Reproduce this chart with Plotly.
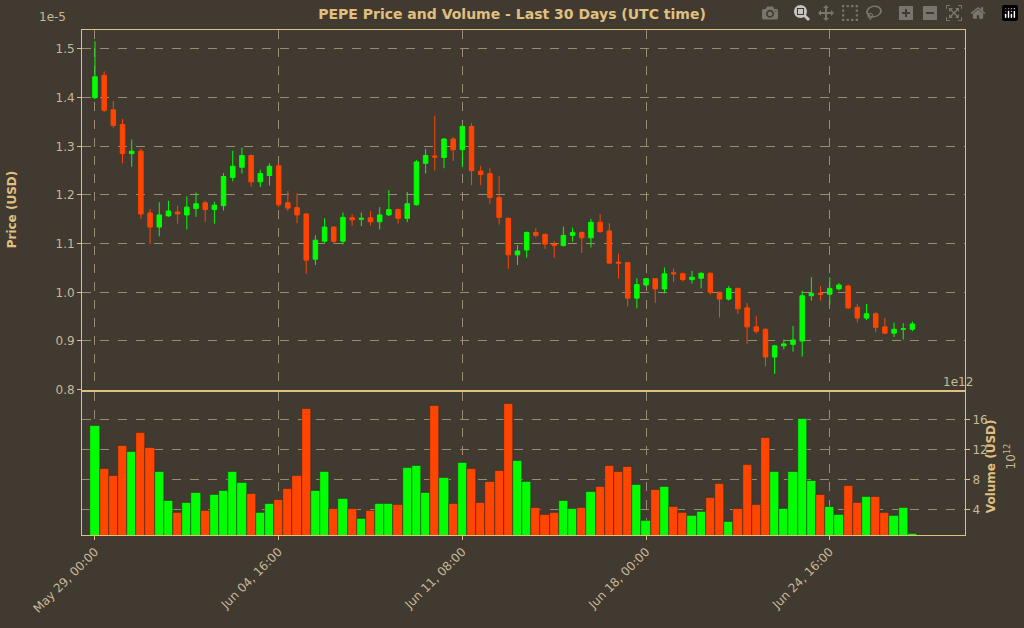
import pandas as pd
import plotly.graph_objects as go
from plotly.subplots import make_subplots

# prices in units of 1e-5 USD, 8-hour candles
opens  = [1.400,1.446,1.375,1.345,1.285,1.290,1.163,1.134,1.157,1.165,1.159,1.172,1.184,1.170,1.178,1.236,1.257,1.281,1.227,1.240,
          1.260,1.184,1.174,1.161,1.068,1.105,1.134,1.105,1.153,1.150,1.153,1.145,1.159,1.170,1.152,1.180,1.265,1.280,1.277,1.315,
          1.293,1.341,1.249,1.244,1.195,1.152,1.077,1.087,1.123,1.119,1.099,1.096,1.117,1.123,1.112,1.144,1.126,1.062,1.061,0.988,
          1.015,1.028,1.007,1.040,1.038,1.026,1.029,1.039,1.000,0.986,1.008,0.968,0.929,0.924,0.867,0.890,0.893,0.900,0.993,0.998,
          0.996,1.007,1.013,0.969,0.947,0.956,0.929,0.916,0.924,0.924]
highs  = [1.516,1.454,1.393,1.356,1.314,1.295,1.171,1.185,1.188,1.178,1.197,1.205,1.188,1.186,1.245,1.291,1.297,1.283,1.252,1.265,
          1.264,1.208,1.204,1.163,1.117,1.152,1.136,1.164,1.161,1.164,1.167,1.175,1.210,1.172,1.206,1.272,1.295,1.363,1.317,1.319,
          1.343,1.348,1.260,1.255,1.239,1.154,1.097,1.125,1.132,1.121,1.105,1.135,1.133,1.125,1.151,1.161,1.142,1.079,1.062,1.029,
          1.029,1.029,1.051,1.049,1.041,1.044,1.041,1.041,1.001,1.013,1.010,0.978,0.951,0.926,0.892,0.903,0.931,1.003,1.031,1.013,
          1.031,1.019,1.016,0.976,0.976,0.959,0.947,0.938,0.937,0.940]
lows   = [1.397,1.370,1.338,1.265,1.258,1.151,1.099,1.115,1.155,1.141,1.129,1.155,1.145,1.141,1.168,1.228,1.244,1.217,1.216,1.219,
          1.175,1.167,1.142,1.038,1.056,1.102,1.099,1.098,1.137,1.136,1.137,1.129,1.157,1.141,1.144,1.178,1.244,1.250,1.255,1.270,
          1.257,1.220,1.220,1.182,1.139,1.048,1.056,1.071,1.113,1.089,1.071,1.094,1.104,1.081,1.092,1.122,1.058,1.028,0.971,0.967,
          1.012,0.978,0.998,1.021,1.022,1.018,1.008,0.995,0.948,0.983,0.955,0.894,0.915,0.848,0.832,0.883,0.878,0.868,0.983,0.983,
          0.975,1.004,0.965,0.938,0.943,0.918,0.914,0.908,0.903,0.920]
closes = [1.443,1.374,1.343,1.285,1.290,1.161,1.134,1.159,1.167,1.161,1.175,1.182,1.170,1.179,1.238,1.259,1.281,1.227,1.244,1.259,
          1.180,1.173,1.159,1.066,1.107,1.134,1.105,1.154,1.149,1.152,1.145,1.159,1.170,1.152,1.182,1.268,1.281,1.278,1.315,1.293,
          1.341,1.250,1.242,1.195,1.154,1.077,1.085,1.123,1.117,1.099,1.096,1.117,1.123,1.112,1.144,1.125,1.060,1.060,0.988,1.016,
          1.028,1.007,1.038,1.038,1.026,1.031,1.039,1.000,0.986,1.008,0.966,0.929,0.920,0.867,0.890,0.894,0.902,0.993,0.998,0.996,
          1.008,1.015,0.968,0.947,0.956,0.928,0.916,0.924,0.925,0.935]
# volume in units of 1e12 USD
volumes = [15.2,9.5,8.5,12.6,11.7,14.3,12.2,9.0,5.2,3.6,4.9,6.3,3.8,6.0,6.5,9.0,7.6,6.1,3.5,4.7,
           5.3,6.8,8.5,17.5,6.5,9.1,4.1,5.4,4.1,2.7,3.8,4.7,4.7,4.6,9.6,9.8,6.2,17.9,8.2,4.7,
           10.3,9.5,4.9,7.7,9.2,18.1,10.5,7.7,4.2,3.3,3.6,5.2,4.1,4.2,6.4,7.0,9.9,9.1,9.7,7.3,
           2.5,6.7,7.1,4.4,3.5,3.1,3.7,5.6,7.5,2.4,4.1,10.0,4.6,13.6,9.0,4.1,9.1,16.1,7.8,6.0,
           4.3,3.3,7.2,4.9,5.7,5.7,3.5,3.2,4.2,0.8]
tick_dates = ["2024-05-29 00:00","2024-06-04 16:00","2024-06-11 08:00","2024-06-18 00:00","2024-06-24 16:00"]
tick_labels = ["May 29, 00:00","Jun 04, 16:00","Jun 11, 08:00","Jun 18, 00:00","Jun 24, 16:00"]

times = pd.date_range("2024-05-29 00:00", periods=len(opens), freq="8h")
GREEN, RED = "#00ff00", "#ff4500"
vcolors = [GREEN if c >= o else RED for o, c in zip(opens, closes)]

BG = "#403a30"; TAN = "#e0c080"; GRID = "#9a8c70"; TICK = "#c8b898"

fig = make_subplots(rows=2, cols=1, shared_xaxes=True, row_heights=[0.715, 0.285], vertical_spacing=0.004)
fig.add_trace(go.Candlestick(x=times, open=opens, high=highs, low=lows, close=closes,
                             increasing=dict(line=dict(color=GREEN, width=1), fillcolor=GREEN),
                             decreasing=dict(line=dict(color=RED, width=1), fillcolor=RED),
                             whiskerwidth=0, showlegend=False), row=1, col=1)
fig.add_trace(go.Bar(x=times, y=volumes, marker=dict(color=vcolors, line=dict(color="#2a2a20", width=0.5)),
                     width=8*3600*1000, showlegend=False), row=2, col=1)

x0 = pd.Timestamp("2024-05-29 00:00") - pd.Timedelta(hours=11.3)
x1 = pd.Timestamp("2024-05-29 00:00") + pd.Timedelta(hours=757.8)
axcommon = dict(showline=True, linecolor=TAN, linewidth=1, mirror=True, gridcolor=GRID, griddash="dash",
                gridwidth=0.6, tickfont=dict(color=TICK, size=12, family="DejaVu Sans"), zeroline=False,
                ticks="outside", tickcolor=TAN, ticklen=4)
fig.update_xaxes(range=[x0, x1], tickvals=list(pd.to_datetime(tick_dates)), ticktext=tick_labels,
                 rangeslider=dict(visible=False), **axcommon)
fig.update_xaxes(showticklabels=False, row=1, col=1)
fig.update_xaxes(tickangle=-45, row=2, col=1)
fig.update_yaxes(range=[0.8, 1.539], tickvals=[0.8,0.9,1.0,1.1,1.2,1.3,1.4,1.5],
                 ticktext=["0.8","0.9","1.0","1.1","1.2","1.3","1.4","1.5"], row=1, col=1, **axcommon)
fig.update_yaxes(range=[0.56, 19.77], tickvals=[4,8,12,16], side="right", row=2, col=1, **axcommon)

L, R, T, B = 82, 59, 30, 77
fig.update_layout(width=1024, height=628, paper_bgcolor=BG, plot_bgcolor=BG,
                  margin=dict(l=L, r=R, t=T, b=B), bargap=0,
                  title=dict(text="<b>PEPE Price and Volume - Last 30 Days (UTC time)</b>", x=0.5, y=0.985,
                             xanchor="center", font=dict(color=TAN, size=14, family="DejaVu Sans")),
                  font=dict(family="DejaVu Sans"))
ann = [
    dict(text="<b>Price (USD)</b>", x=12, y=215, textangle=-90, font=dict(color=TAN, size=12)),
    dict(text="<b>Volume (USD)</b>", x=991, y=480, textangle=-90, font=dict(color=TAN, size=12)),
    dict(text="10<sup>12</sup>", x=1010, y=470, textangle=-90, font=dict(color=TICK, size=12)),
    dict(text="1e-5", x=52, y=17, font=dict(color=TICK, size=12)),
    dict(text="1e12", x=958, y=393, font=dict(color=TICK, size=12)),
]
for a in ann:
    fig.add_annotation(text=a["text"], x=(a["x"] - L) / (1024 - L - R), y=1 - (a["y"] - T) / (628 - T - B),
                       xref="paper", yref="paper", xanchor="center", yanchor="middle", showarrow=False,
                       textangle=a.get("textangle", 0), font=a["font"])
fig.write_html("out.html")
with open("out.html", encoding="utf-8") as f:
    html = f.read()
html = html.replace("<head>", "<head><style>html,body{margin:0;padding:0;overflow:hidden;background:#403a30;}</style>", 1)
with open("out.html", "w", encoding="utf-8") as f:
    f.write(html)
